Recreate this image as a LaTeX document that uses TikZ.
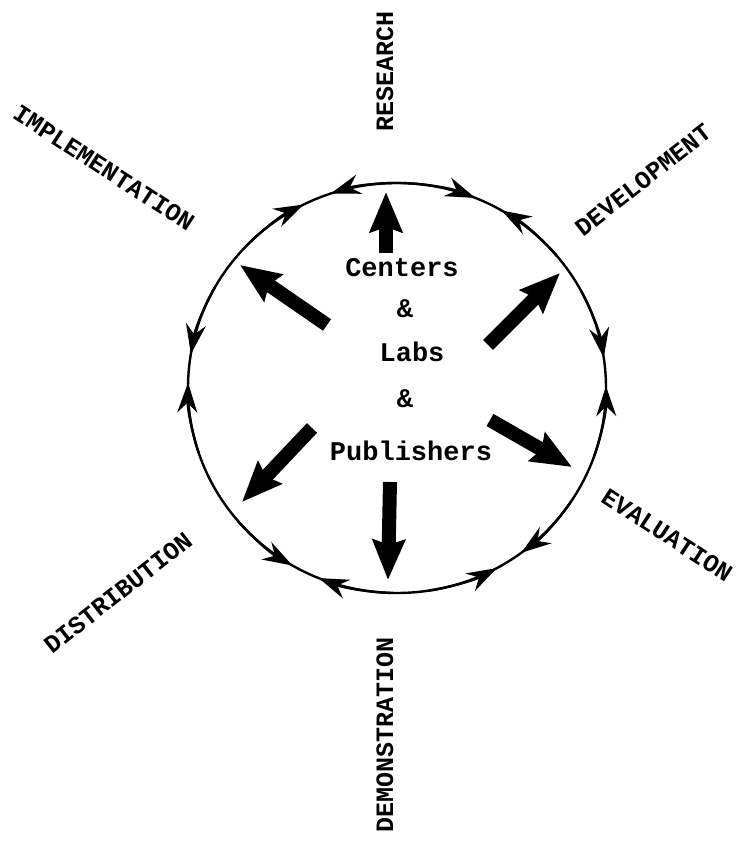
\documentclass[tikz,border=0pt]{standalone}
\usepackage{fontspec}
\setmonofont{Liberation Mono}
\usetikzlibrary{arrows.meta,calc}
\begin{document}
\begin{tikzpicture}[x=1pt,y=1pt,
  ring/.style={line width=2.4pt},
  ringarrow/.style={line width=2.4pt,-{Stealth[length=30pt,width=20pt,inset=10pt]}},
  bigarrow/.style={line width=14pt,-{Stealth[length=40pt,width=32pt,inset=5pt]}},
  stage/.style={font=\fontsize{25}{25}\selectfont\ttfamily\bfseries, inner sep=0pt},
  hub/.style={font=\fontsize{27}{27}\selectfont\ttfamily\bfseries, anchor=base, inner sep=0pt}]
\useasboundingbox (0,0) rectangle (740,848);
\coordinate (O) at (397,460);
\draw[ring] (O) ellipse [x radius=209, y radius=205];
\foreach \m in {112.5,64,4.5,-57.5,-116,174.5}{
  \draw[ringarrow] ($(O)+(\m+24:209 and 205)$) arc[start angle=\m+24, end angle=\m+4, x radius=209, y radius=205];
  \draw[ringarrow] ($(O)+(\m-24:209 and 205)$) arc[start angle=\m-24, end angle=\m-4, x radius=209, y radius=205];
}
% hub text
\node[hub] (c1) at (402,571) {Centers};
\node[hub] (c2) at (405,530) {\&};
\node[hub] (c3) at (412,486) {Labs};
\node[hub] (c4) at (405,440) {\&};
\node[hub] (c5) at (411,387) {Publishers};
% stage labels
\node[stage, rotate=90] (res) at (385,776) {RESEARCH};
\node[stage, rotate=38] (dev) at (643,668) {DEVELOPMENT};
\node[stage, rotate=-33] (eva) at (667,313) {EVALUATION};
\node[stage, rotate=90] (dem) at (385,113) {DEMONSTRATION};
\node[stage, rotate=38] (dis) at (118,255) {DISTRIBUTION};
\node[stage, rotate=-33] (imp) at (104,680) {IMPLEMENTATION};
% thick arrows
\coordinate (s1) at (386,595); \coordinate (e1) at (386,656);
\coordinate (s2) at (327,523); \coordinate (e2) at (240,583);
\coordinate (s3) at (488,503); \coordinate (e3) at (560,575);
\coordinate (s4) at (490,428); \coordinate (e4) at (572,381);
\coordinate (s5) at (390,366); \coordinate (e5) at (388,268);
\coordinate (s6) at (312,420); \coordinate (e6) at (242,346);
\foreach \i in {1,...,6}{\draw[bigarrow] (s\i) -- (e\i);}
\end{tikzpicture}
\end{document}
